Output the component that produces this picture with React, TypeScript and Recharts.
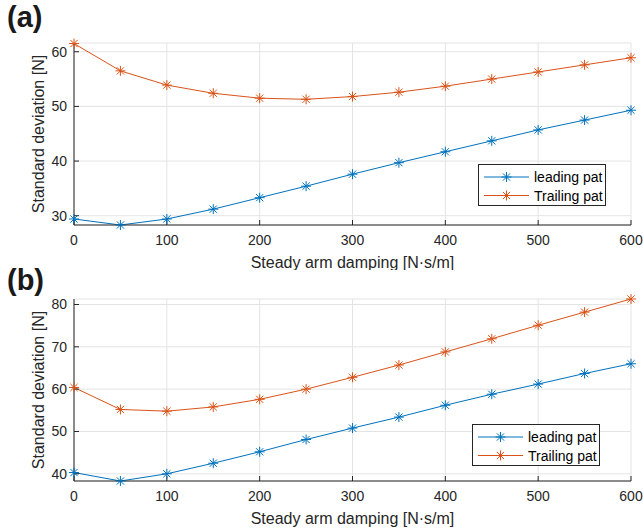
import React from 'react';
import { LineChart, Line, XAxis, YAxis, CartesianGrid, Label } from 'recharts';

const damping = [0, 50, 100, 150, 200, 250, 300, 350, 400, 450, 500, 550, 600];
const xTicks = [0, 100, 200, 300, 400, 500, 600];

const aLeading = [29.4, 28.3, 29.4, 31.2, 33.3, 35.4, 37.6, 39.7, 41.7, 43.7, 45.7, 47.5, 49.3];
const aTrailing = [61.5, 56.5, 53.9, 52.4, 51.5, 51.3, 51.8, 52.6, 53.7, 55.0, 56.3, 57.6, 58.9];
const aTicks = [30, 40, 50, 60];

const bLeading = [40.3, 38.3, 40.0, 42.5, 45.2, 48.1, 50.8, 53.4, 56.2, 58.8, 61.2, 63.7, 66.0];
const bTrailing = [60.4, 55.2, 54.8, 55.8, 57.6, 60.0, 62.8, 65.7, 68.8, 71.9, 75.1, 78.2, 81.3];
const bTicks = [40, 50, 60, 70, 80];

const BLUE = '#0072BD';
const ORANGE = '#D95319';
const AXIS = '#262626';
const FONT = '"Liberation Sans", Arial, sans-serif';

const StarDot = (props: any) => {
  const { cx, cy, stroke, index } = props;
  if (cx == null || cy == null) return null;
  const r = 5;
  const d = 3.6;
  return (
    <g key={index} stroke={stroke} strokeWidth={1}>
      <line x1={cx - r} y1={cy} x2={cx + r} y2={cy} />
      <line x1={cx} y1={cy - r} x2={cx} y2={cy + r} />
      <line x1={cx - d} y1={cy - d} x2={cx + d} y2={cy + d} />
      <line x1={cx - d} y1={cy + d} x2={cx + d} y2={cy - d} />
    </g>
  );
};

const LegendBox = ({ left, top }: { left: number; top: number }) => (
  <div
    style={{
      position: 'absolute',
      left,
      top,
      width: 126,
      height: 40,
      border: `1px solid ${AXIS}`,
      background: '#fff',
      fontFamily: FONT,
      fontSize: 14,
      color: '#000',
    }}
  >
    <svg width={126} height={40}>
      {[
        { name: 'leading pat', color: BLUE },
        { name: 'Trailing pat', color: ORANGE },
      ].map((s, i) => {
        const y = 12 + i * 18.5;
        return (
          <g key={s.name}>
            <line x1={5} y1={y} x2={50} y2={y} stroke={s.color} strokeWidth={1} />
            <StarDot cx={27.5} cy={y} stroke={s.color} />
            <text x={55} y={y + 5} fill="#000" fontSize={14} fontFamily={FONT}>
              {s.name}
            </text>
          </g>
        );
      })}
    </svg>
  </div>
);

type PanelProps = {
  leading: number[];
  trailing: number[];
  yTicks: number[];
  yDomain: [number, number];
  height: number;
  marginTop: number;
};

const Panel = ({ leading, trailing, yTicks, yDomain, height, marginTop }: PanelProps) => {
  const data = damping.map((d, i) => ({ d, leading: leading[i], trailing: trailing[i] }));
  const tickStyle = { fill: AXIS, fontSize: 14, fontFamily: FONT };
  return (
    <LineChart
      width={643}
      height={height}
      data={data}
      margin={{ top: marginTop, right: 12, left: 0, bottom: 0 }}
    >
      <CartesianGrid stroke="#e4e4e4" strokeWidth={1} />
      <XAxis
        dataKey="d"
        type="number"
        domain={[0, 600]}
        ticks={xTicks}
        height={height - marginTop - 182}
        stroke={AXIS}
        tickSize={-5}
        tickMargin={15}
        tick={tickStyle}
      >
        <Label
          content={({ viewBox }: any) => (
            <text
              x={viewBox.x + viewBox.width / 2}
              y={viewBox.y + 43}
              textAnchor="middle"
              fill={AXIS}
              fontSize={16}
              fontFamily={FONT}
            >
              Steady arm damping [N·s/m]
            </text>
          )}
        />
      </XAxis>
      <XAxis
        xAxisId="top"
        orientation="top"
        type="number"
        domain={[0, 600]}
        ticks={xTicks}
        height={0}
        stroke={AXIS}
        tickSize={-5}
        tick={() => <g />}
      />
      <YAxis
        type="number"
        domain={yDomain}
        ticks={yTicks}
        width={74}
        stroke={AXIS}
        tickSize={-5}
        tickMargin={12}
        tick={tickStyle}
      >
        <Label
          content={({ viewBox }: any) => {
            const cx = 38;
            const cy = viewBox.y + viewBox.height / 2;
            return (
              <text
                x={cx}
                y={cy}
                transform={`rotate(-90 ${cx} ${cy})`}
                textAnchor="middle"
                dominantBaseline="central"
                fill={AXIS}
                fontSize={16}
                fontFamily={FONT}
              >
                Standard deviation [N]
              </text>
            );
          }}
        />
      </YAxis>
      <YAxis
        yAxisId="right"
        orientation="right"
        type="number"
        domain={yDomain}
        ticks={yTicks}
        width={0}
        stroke={AXIS}
        tickSize={-5}
        tick={() => <g />}
      />
      <Line
        dataKey="leading"
        stroke={BLUE}
        strokeWidth={1}
        dot={<StarDot />}
        activeDot={false}
        isAnimationActive={false}
      />
      <Line
        dataKey="trailing"
        stroke={ORANGE}
        strokeWidth={1}
        dot={<StarDot />}
        activeDot={false}
        isAnimationActive={false}
      />
    </LineChart>
  );
};

const PanelTag = ({ text, top }: { text: string; top: number }) => (
  <svg style={{ position: 'absolute', left: 0, top }} width={60} height={36}>
    <text x={7} y={27} fontSize={29} fontWeight="bold" fontFamily={FONT} fill="#1a1a1a">
      {text}
    </text>
  </svg>
);

export default function App() {
  return (
    <div
      style={{
        position: 'absolute',
        left: 0,
        top: 0,
        width: 643,
        height: 531,
        background: '#fff',
        overflow: 'hidden',
      }}
    >
      <div style={{ position: 'absolute', left: 0, top: 0 }}>
        <Panel
          leading={aLeading}
          trailing={aTrailing}
          yTicks={aTicks}
          yDomain={[28.3, 61.6]}
          height={270}
          marginTop={43}
        />
      </div>
      <div style={{ position: 'absolute', left: 0, top: 270 }}>
        <Panel
          leading={bLeading}
          trailing={bTrailing}
          yTicks={bTicks}
          yDomain={[38.3, 81.3]}
          height={261}
          marginTop={29}
        />
      </div>
      <PanelTag text="(a)" top={0} />
      <PanelTag text="(b)" top={263} />
      <LegendBox left={478} top={164} />
      <LegendBox left={472} top={424} />
    </div>
  );
}
